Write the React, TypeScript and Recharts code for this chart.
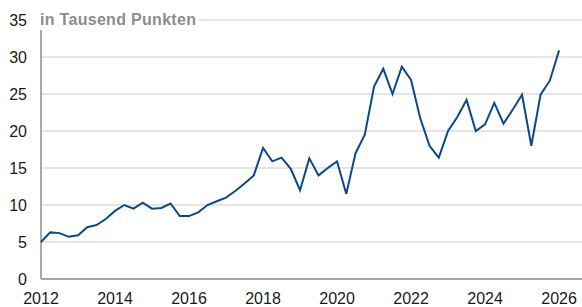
import { LineChart, Line, XAxis, YAxis, CartesianGrid, ReferenceLine } from 'recharts'

// quarterly index values, Q1 2012 .. Q1 2026 (in thousand points)
const START_YEAR = 2012
const VALUES = [
  5.0, 6.3, 6.2, 5.7, 5.9, 7.0, 7.3, 8.1,
  9.2, 10.0, 9.5, 10.3, 9.5, 9.6, 10.2, 8.5,
  8.5, 9.0, 10.0, 10.5, 11.0, 11.9, 12.9, 14.0,
  17.7, 15.9, 16.4, 14.9, 12.0, 16.3, 14.0, 15.0,
  15.9, 11.5, 17.0, 19.5, 26.0, 28.4, 25.0, 28.7,
  26.9, 21.7, 18.0, 16.4, 20.0, 21.9, 24.2, 20.0,
  20.9, 23.8, 21.0, 22.9, 24.9, 18.0, 24.9, 26.8,
  30.9,
]
const X_TICKS = [2012, 2014, 2016, 2018, 2020, 2022, 2024, 2026]
const Y_TICKS = [0, 5, 10, 15, 20, 25, 30, 35]
const TITLE = 'in Tausend Punkten'

const data = VALUES.map((v, i) => ({ t: START_YEAR + i / 4, value: v }))

const FONT = '"Liberation Sans", Arial, sans-serif'

export default function App() {
  return (
    <div style={{ position: 'absolute', left: 0, top: 0, width: 582, height: 307, fontFamily: FONT }}>
      <LineChart width={582} height={307} data={data} margin={{ top: 20, right: 0, bottom: 0, left: 0 }}>
        <CartesianGrid vertical={false} stroke="#dcdcdc" strokeWidth={1.5} />
        <XAxis
          dataKey="t"
          type="number"
          domain={[2012, 2026.62]}
          ticks={X_TICKS}
          tickLine={false}
          tickSize={12}
          tickMargin={2}
          height={28}
          axisLine={{ stroke: '#a6a6a6', strokeWidth: 2 }}
          tick={{ fill: '#1a1a1a', fontSize: 16, fontFamily: FONT }}
        />
        <YAxis
          domain={[0, 35]}
          ticks={Y_TICKS}
          width={41}
          tickLine={false}
          tickSize={12}
          tickMargin={2}
          axisLine={false}
          tick={{ fill: '#1a1a1a', fontSize: 16, fontFamily: FONT }}
        />
        <ReferenceLine
          segment={[{ x: 2012, y: 0 }, { x: 2012, y: 33.7 }]}
          stroke="#8c8c8c"
          strokeWidth={1.5}
        />
        <Line
          type="linear"
          dataKey="value"
          stroke="#0b4a8a"
          strokeWidth={2}
          dot={false}
          isAnimationActive={false}
        />
      </LineChart>
      <div
        style={{
          position: 'absolute',
          left: 38,
          top: 10,
          padding: '0 3px 0 2px',
          background: '#fff',
          color: '#8c8c8c',
          fontWeight: 'bold',
          fontSize: 16,
          letterSpacing: 0.3,
          lineHeight: '20px',
          whiteSpace: 'nowrap',
        }}
      >
        {TITLE}
      </div>
    </div>
  )
}
